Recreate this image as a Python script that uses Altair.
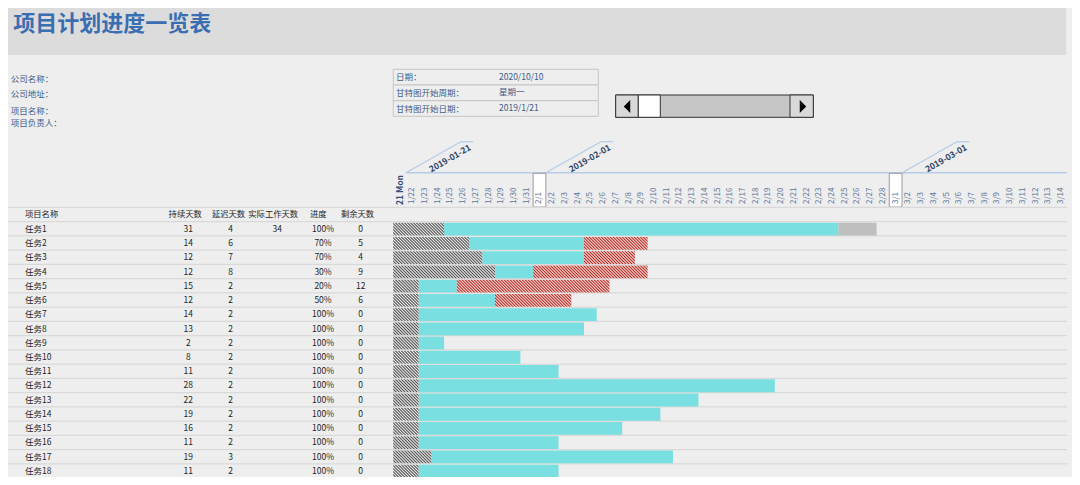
import math
import altair as alt
import pandas as pd

# ---------------- data ----------------
title_text = "项目计划进度一览表"
info_labels = ["公司名称：", "公司地址：", "项目名称：", "项目负责人："]
meta_labels = ["日期：", "甘特图开始周期：", "甘特图开始日期："]
meta_values = ["2020/10/10", "星期一", "2019/1/21"]
col_headers = ["项目名称", "持续天数", "延迟天数", "实际工作天数", "进度", "剩余天数"]
tasks = ["任务1", "任务2", "任务3", "任务4", "任务5", "任务6", "任务7", "任务8", "任务9", "任务10",
         "任务11", "任务12", "任务13", "任务14", "任务15", "任务16", "任务17", "任务18", "任务19"]
duration = [31, 14, 12, 12, 15, 12, 14, 13, 2, 8, 11, 28, 22, 19, 16, 11, 19, 11, 11]
delay = [4, 6, 7, 8, 2, 2, 2, 2, 2, 2, 2, 2, 2, 2, 2, 2, 3, 2, 2]
actual = [34, None, None, None, None, None, None, None, None, None,
          None, None, None, None, None, None, None, None, None]
progress = [1.0, 0.7, 0.7, 0.3, 0.2, 0.5, 1.0, 1.0, 1.0, 1.0,
            1.0, 1.0, 1.0, 1.0, 1.0, 1.0, 1.0, 1.0, 1.0]
remaining = [0, 5, 4, 9, 12, 6, 0, 0, 0, 0, 0, 0, 0, 0, 0, 0, 0, 0, 0]
gantt_start = "2019-01-21"
n_days = 53
first_day_label = "21 Mon"
month_marks = ["2019-01-21", "2019-02-01", "2019-03-01"]

# ---------------- layout ----------------
W, H = 1064, 469
OFF = 8
PX_DAY = 12.72
DAY0 = 393.2
ROW_H = 14.24
ROW0 = 221.7
FONT = "Noto Sans CJK SC"
BLUE_TXT = "#3d5d8a"
DARK_TXT = "#1e1e1e"

xs = alt.Scale(domain=[(OFF - DAY0) / PX_DAY, (OFF + W - DAY0) / PX_DAY], nice=False, zero=False)
Y_LO = (OFF - ROW0) / ROW_H
Y_HI = (OFF + H - ROW0) / ROW_H
ys = alt.Scale(domain=[Y_LO, Y_HI], nice=False, zero=False, reverse=True)


def X(f):
    return alt.X(f"{f}:Q", scale=xs, axis=None)


def Y(f):
    return alt.Y(f"{f}:Q", scale=ys, axis=None)


def vx(p):
    return alt.value(p - OFF)


def vy(p):
    return alt.value(p - OFF)


one = pd.DataFrame({"k": [0]})


def label(text, x, y, size=8.5, color=BLUE_TXT, weight="normal", align="left", angle=0):
    return alt.Chart(one).mark_text(
        text=text, font=FONT, fontSize=size, color=color, fontWeight=weight,
        align=align, baseline="middle", angle=angle
    ).encode(x=vx(x), y=vy(y))


def box(x1, x2, y1, y2, fill, stroke=None, sw=1.0, fo=1.0):
    kw = dict(fill=fill, fillOpacity=fo)
    if stroke:
        kw.update(stroke=stroke, strokeWidth=sw)
    return alt.Chart(one).mark_rect(**kw).encode(x=vx(x1), x2=vx(x2), y=vy(y1), y2=vy(y2))


BAR_TOP, BAR_BOT = 0.07, 0.97
BAR_H = (BAR_BOT - BAR_TOP) * ROW_H


def _hex(c):
    return tuple(int(c[i:i + 2], 16) for i in (1, 3, 5))


def _mix(c1, c2, f):
    a, b = _hex(c1), _hex(c2)
    return "#" + "".join(f"{round(x + (y - x) * f):02x}" for x, y in zip(a, b))


def hatch(days, dark, light, period=3.0, steps=6):
    """Diagonal stripe texture (smooth profile so pixel sampling stays even)."""
    w = days * PX_DAY
    h = BAR_H
    s = (w + h) * w / (w * w + h * h)
    n = (w + h) / period
    stops = []
    k = 0
    while k < n:
        for j in range(steps):
            o = (k + j / steps) / n
            if o > 1:
                break
            f = 0.5 - 0.5 * math.cos(2 * math.pi * j / steps)
            stops.append({"offset": round(o, 5), "color": _mix(dark, light, f)})
        k += 1
    return {"gradient": "linear", "x1": 0, "y1": 1, "x2": round(s, 5), "y2": round(1 - s * h / w, 5),
            "stops": stops}


layers = []

# header band & title
layers.append(box(OFF, 1066, OFF, 55, "#dcdcdc"))
layers.append(label(title_text, 13.3, 23.5, size=22, color="#3a6eb2", weight="bold"))

# company info labels
for t, yy in zip(info_labels, [79, 94.3, 110.7, 122.7]):
    layers.append(label(t, 10.7, yy))

# meta table
row_edges = [69.3, 85.0, 100.7, 116.3]
for i in range(3):
    layers.append(box(393.3, 598.3, row_edges[i], row_edges[i + 1], "#eeeeee", stroke="#c6c6c6", sw=1))
    yc = (row_edges[i] + row_edges[i + 1]) / 2
    layers.append(label(meta_labels[i], 396, yc))
    layers.append(label(meta_values[i], 499, yc - 0.5))

# scrollbar widget
layers.append(box(615.7, 813.3, 95, 117.3, "#c6c6c6", stroke="#333333", sw=1))
layers.append(box(615.7, 638.3, 95, 117.3, "#d9d9d9", stroke="#333333", sw=1))
layers.append(box(638.3, 660.3, 95, 117.3, "#ffffff", stroke="#333333", sw=1))
layers.append(box(790, 813.3, 95, 117.3, "#d9d9d9", stroke="#333333", sw=1))
for sx, shp in [(627, "M 0.5 -1 L -0.5 0 L 0.5 1 Z"), (803, "M -0.5 -1 L 0.5 0 L -0.5 1 Z")]:
    layers.append(alt.Chart(one).mark_point(shape=shp, filled=True, size=170, color="#000000", opacity=1)
                  .encode(x=vx(sx), y=vy(106.5)))

# date header
dates = pd.date_range(gantt_start, periods=n_days)
days_df = pd.DataFrame({
    "dc": [i + 0.5 for i in range(n_days)],
    "lbl": [first_day_label] + [f"{d.month}/{d.day}" for d in dates[1:]],
})
start_ts = pd.Timestamp(gantt_start)
mdf = pd.DataFrame({"label": month_marks,
                    "d": [(pd.Timestamp(m) - start_ts).days for m in month_marks]})
mdf["a"] = mdf["d"] + 1
mdf["b"] = mdf["a"] + 55 / PX_DAY
mdf["c"] = mdf["a"] + 67 / PX_DAY
mdf["t"] = mdf["a"] + 44 / PX_DAY
mdf["e"] = mdf["d"] + 1

LINE_BLUE = "#b7cce6"
layers.append(alt.Chart(mdf.head(1)).mark_rule(color=LINE_BLUE, strokeWidth=1.5)
              .encode(x=X("a"), x2=vx(1067), y=vy(172.7)))
layers.append(alt.Chart(mdf).mark_rule(color=LINE_BLUE, strokeWidth=1.3)
              .encode(x=X("a"), x2=alt.X2("b:Q"), y=vy(172.7), y2=vy(141.7)))
layers.append(alt.Chart(mdf).mark_rule(color=LINE_BLUE, strokeWidth=1.3)
              .encode(x=X("b"), x2=alt.X2("c:Q"), y=vy(141.7)))
layers.append(alt.Chart(mdf).mark_text(font=FONT, fontSize=8.5, fontWeight="bold", color="#2d4468",
                                       angle=330, align="center", baseline="middle")
              .encode(x=X("t"), y=vy(158.3), text="label:N"))
layers.append(alt.Chart(mdf[mdf["d"] > 0]).mark_rect(fill="#ffffff", stroke="#9a9a9a", strokeWidth=1)
              .encode(x=X("d"), x2=alt.X2("e:Q"), y=vy(173.3), y2=vy(207)))
layers.append(alt.Chart(days_df.iloc[1:]).mark_text(font=FONT, fontSize=8, color="#5b7598",
                                                    angle=270, align="left", baseline="middle")
              .encode(x=X("dc"), y=vy(204), text="lbl:N"))
layers.append(alt.Chart(days_df.iloc[:1]).mark_text(font=FONT, fontSize=8.5, fontWeight="bold",
                                                    color="#34507a", angle=270, align="left",
                                                    baseline="middle")
              .encode(x=X("dc"), y=vy(205), text="lbl:N"))

# row separator lines
lines_df = pd.DataFrame({"u": list(range(-1, len(tasks) + 1))})
layers.append(alt.Chart(lines_df).mark_rule(color="#d9d9d9", strokeWidth=1.2, clip=True)
              .encode(y=Y("u"), x=vx(OFF), x2=vx(1067)))

# gantt segments
segs = []
for i in range(len(tasks)):
    s0 = 0
    s1 = delay[i]
    s2 = delay[i] + duration[i] - remaining[i]
    s3 = delay[i] + duration[i]
    segs.append(dict(task=tasks[i], kind="delay", start=s0, end=s1, n=s1 - s0))
    segs.append(dict(task=tasks[i], kind="done", start=s1, end=s2, n=s2 - s1))
    if remaining[i] > 0:
        segs.append(dict(task=tasks[i], kind="left", start=s2, end=s3, n=s3 - s2))
    if actual[i] is not None and actual[i] > duration[i]:
        segs.append(dict(task=tasks[i], kind="over", start=s3, end=delay[i] + actual[i],
                         n=actual[i] - duration[i]))
seg_df = pd.DataFrame(segs)
seg_df["top"] = [tasks.index(t) + BAR_TOP for t in seg_df["task"]]
seg_df["bot"] = [tasks.index(t) + BAR_BOT for t in seg_df["task"]]


def seg_layer(sub, **mk):
    return alt.Chart(sub).mark_rect(clip=True, **mk).encode(
        x=X("start"), x2=alt.X2("end:Q"), y=Y("top"), y2=alt.Y2("bot:Q"))


layers.append(seg_layer(seg_df[seg_df["kind"] == "done"], fill="#79dfe0"))
layers.append(seg_layer(seg_df[seg_df["kind"] == "over"], fill="#bfbfbf"))
for n in sorted(seg_df[seg_df["kind"] == "delay"]["n"].unique()):
    sub = seg_df[(seg_df["kind"] == "delay") & (seg_df["n"] == n)]
    layers.append(seg_layer(sub, fill=hatch(float(n), "#555555", "#e8e8e8")))
for n in sorted(seg_df[seg_df["kind"] == "left"]["n"].unique()):
    sub = seg_df[(seg_df["kind"] == "left") & (seg_df["n"] == n)]
    layers.append(seg_layer(sub, fill=hatch(float(n), "#b52f2a", "#f4d4cf")))

# table
tbl = pd.DataFrame({
    "yc": [i + 0.5 for i in range(len(tasks))],
    "name": tasks,
    "dur": [str(v) for v in duration],
    "dly": [str(v) for v in delay],
    "act": ["" if v is None else str(v) for v in actual],
    "prog": [f"{round(v * 100)}%" for v in progress],
    "rem": [str(v) for v in remaining],
})
tbl_vis = tbl[tbl["yc"] + 0.4 < Y_HI]
hdr_y = ROW0 - 0.5 * ROW_H
hdr_x = [(25, "left"), (185.2, "center"), (228.5, "center"), (273.2, "center"), (318.3, "center"),
         (357.5, "center")]
for (hx, al), ht in zip(hdr_x, col_headers):
    layers.append(label(ht, hx, hdr_y, size=8.3, color=DARK_TXT, align=al))
val_cols = [("name", 25, "left"), ("dur", 188.3, "center"), ("dly", 230.7, "center"),
            ("act", 277.3, "center"), ("prog", 323, "center"), ("rem", 360.7, "center")]
for fld, cx, al in val_cols:
    layers.append(alt.Chart(tbl_vis).mark_text(font=FONT, fontSize=8.5, color=DARK_TXT, align=al,
                                               baseline="middle")
                  .encode(x=vx(cx), y=Y("yc"), text=f"{fld}:N"))

chart = alt.layer(*layers).properties(
    width=W, height=H, background="#eeeeee", padding=0, autosize="none"
).configure_view(stroke=None)

chart.save("out.html", embed_options={"renderer": "svg", "actions": False})
